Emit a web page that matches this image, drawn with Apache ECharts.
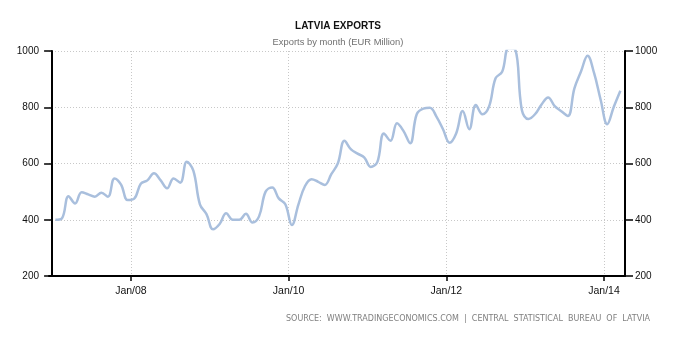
<!DOCTYPE html>
<html><head><meta charset="utf-8">
<script src="https://cdn.jsdelivr.net/npm/echarts@6/dist/echarts.min.js"></script>
<style>html,body{margin:0;padding:0;background:#fff}#c{width:681px;height:339px}</style>
</head><body><div id="c"></div>
<script>
const startYear = 2007;
const exports2007 = [400, 405, 484, 458, 498, 490, 482, 496, 482, 547, 525, 470];
const exports2008 = [475, 528, 540, 565, 541, 512, 547, 532, 606, 575, 455, 420];
const exports2009 = [366, 385, 423, 400, 400, 421, 390, 412, 500, 515, 476, 455];
const exports2010 = [381, 455, 520, 544, 535, 524, 562, 601, 681, 650, 635, 622];
const exports2011 = [588, 605, 707, 681, 743, 715, 672, 775, 795, 798, 767, 722];
const exports2012 = [674, 707, 787, 722, 808, 775, 802, 903, 926, 1010, 1005, 790];
const exports2013 = [758, 775, 810, 835, 804, 786, 769, 867, 927, 983, 921, 826];
const exports2014 = [740, 802, 859];

const xTickValues = [12, 36, 60, 84];           // months since Jan 2007
const xTickLabels = ['Jan/08', 'Jan/10', 'Jan/12', 'Jan/14'];
const yMin = 200, yMax = 1000, yStep = 200;

const titleText = 'LATVIA EXPORTS';
const subtitleText = 'Exports by month (EUR Million)';
const sourceText = 'SOURCE:  WWW.TRADINGECONOMICS.COM  |  CENTRAL  STATISTICAL  BUREAU  OF  LATVIA';

const allValues = [].concat(exports2007, exports2008, exports2009, exports2010,
                            exports2011, exports2012, exports2013, exports2014);
// each monthly value is placed at mid-month
const seriesData = allValues.map((v, i) => [i + 0.5, v]);

const chart = echarts.init(document.getElementById('c'), null, {renderer: 'canvas'});
const labelFont = {color: '#111', fontFamily: 'Liberation Sans', fontSize: 10};
const yAxisBase = {
  type: 'value', min: yMin, max: yMax, interval: yStep,
  axisLine: {show: true, lineStyle: {color: '#000', width: 2}},
  axisTick: {show: true, length: 8, lineStyle: {color: '#000', width: 1.5}},
  axisLabel: Object.assign({margin: 10, formatter: v => String(v)}, labelFont)
};
chart.setOption({
  animation: false,
  backgroundColor: '#fff',
  grid: {left: 49, right: 56, top: 51, bottom: 63, containLabel: false},
  xAxis: {
    type: 'value', min: -0.47, max: 87.2,
    axisLine: {show: true, onZero: false, lineStyle: {color: '#000', width: 2}},
    axisTick: {show: true, length: 5, customValues: xTickValues, lineStyle: {color: '#000', width: 1.5}},
    axisLabel: Object.assign({margin: 10, customValues: xTickValues,
      formatter: v => xTickLabels[xTickValues.indexOf(Math.round(v))] || ''}, labelFont, {fontSize: 10.5}),
    splitLine: {show: true, lineStyle: {color: '#c8c8c8', type: [1, 2], width: 1}}
  },
  yAxis: [
    Object.assign({}, yAxisBase, {position: 'left',
      splitLine: {show: true, lineStyle: {color: '#c8c8c8', type: [1, 2], width: 1}}}),
    Object.assign({}, yAxisBase, {position: 'right', splitLine: {show: false}})
  ],
  series: [{
    type: 'line', yAxisIndex: 0, data: seriesData, smooth: 0.4,
    showSymbol: false, symbol: 'none', clip: true,
    lineStyle: {color: '#a9bfdd', width: 2.5}
  }],
  graphic: [
    {type: 'text', x: 338, y: 26, style: {text: titleText, fill: '#111',
      font: 'bold 10px "Liberation Sans"', textAlign: 'center', textVerticalAlign: 'middle'}},
    {type: 'text', x: 338, y: 42.5, style: {text: subtitleText, fill: '#707070',
      font: '9.4px "Liberation Sans"', textAlign: 'center', textVerticalAlign: 'middle'}},
    {type: 'text', x: 650, y: 319, style: {text: sourceText, fill: '#808080',
      font: '8px "DejaVu Sans"', textAlign: 'right', textVerticalAlign: 'middle'}}
  ]
});
</script></body></html>
